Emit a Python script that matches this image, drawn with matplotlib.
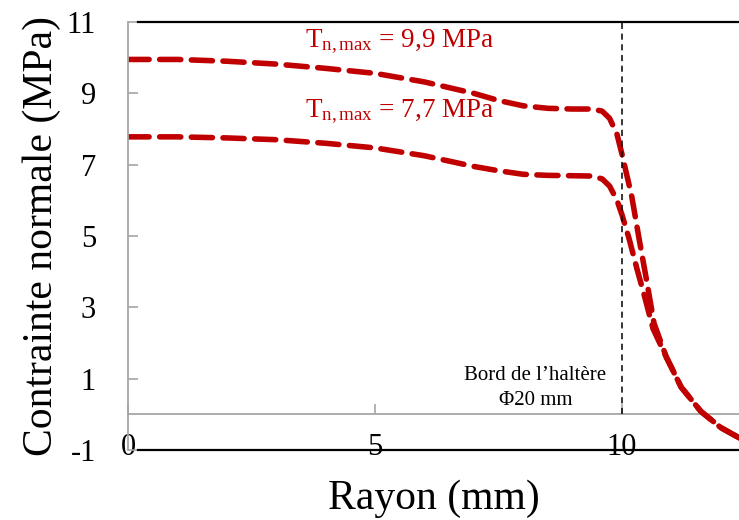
import matplotlib
matplotlib.use("Agg")
import matplotlib.pyplot as plt

plt.rcParams["font.family"] = ["Liberation Serif", "DejaVu Serif"]
plt.rcParams["mathtext.fontset"] = "custom"
plt.rcParams["mathtext.rm"] = "Liberation Serif"
plt.rcParams["mathtext.it"] = "Liberation Serif:italic"
plt.rcParams["axes.unicode_minus"] = False

# courbe Tn,max = 9,9 MPa
r_99 = [0, 1, 2, 3, 4, 5, 6, 7, 7.5, 8, 8.5, 9, 9.4, 9.6, 9.75, 9.9, 10.0,
        10.2, 10.35, 10.5, 10.65, 10.9, 11.2, 11.6, 12.0, 12.4]
s_99 = [9.95, 9.95, 9.9, 9.82, 9.7, 9.56, 9.32, 9.0, 8.8, 8.65, 8.58, 8.56, 8.56,
        8.5, 8.3, 7.85, 7.3, 6.1, 4.9, 3.75, 2.55, 1.6, 0.76, 0.08, -0.37, -0.68]
# courbe Tn,max = 7,7 MPa
r_77 = [0, 1, 2, 3, 4, 5, 6, 7, 7.5, 8, 8.5, 9, 9.4, 9.6, 9.75, 9.9, 10.0,
        10.15, 10.3, 10.45, 10.63, 10.9, 11.2, 11.6, 12.0, 12.4]
s_77 = [7.78, 7.78, 7.75, 7.7, 7.6, 7.47, 7.25, 6.95, 6.83, 6.73, 6.7, 6.69, 6.68,
        6.6, 6.4, 6.0, 5.6, 4.9, 4.1, 3.35, 2.4, 1.6, 0.76, 0.08, -0.37, -0.68]

labels = ["T$_{\\mathrm{n,max}}$ = 9,9 MPa", "T$_{\\mathrm{n,max}}$ = 7,7 MPa"]
yticks = [-1, 1, 3, 5, 7, 9, 11]
xticks = [0, 5, 10]

RED = "#C00000"
GRAY = "#A6A6A6"

fig = plt.figure(figsize=(7.39, 5.2), dpi=100)
ax = fig.add_axes([0.1732, 0.1346, 0.8268, 0.8231])
ax.set_xlim(0, 12.37)
ax.set_ylim(-1, 11)

for r, s in [(r_99, s_99), (r_77, s_77)]:
    ax.plot(r, s, color=RED, lw=4.0, ls=(0, (3.8, 1.9)), dash_capstyle="round",
            solid_joinstyle="round")

ax.text(3.58, 10.45, labels[0], color=RED, fontsize=19.5, va="center", ha="left")
ax.text(3.58, 8.49, labels[1], color=RED, fontsize=19.5, va="center", ha="left")

# bord de l'haltère
ax.plot([10, 10], [0, 11], color="black", lw=1.1, ls=(0, (4, 3)))
ax.text(8.25, 0.12, "Bord de l\u2019haltère\n\u03a620 mm", fontsize=15,
        ha="center", va="bottom", linespacing=1.45)

# axes
ax.spines["right"].set_visible(False)
ax.spines["left"].set_color(GRAY)
ax.spines["left"].set_linewidth(1.3)
ax.spines["bottom"].set_color("black")
ax.spines["bottom"].set_linewidth(1.6)
ax.spines["bottom"].set_bounds(0.2, 12.37)
ax.spines["top"].set_color("black")
ax.spines["top"].set_linewidth(1.6)
ax.spines["top"].set_bounds(0.2, 12.37)

ax.set_yticks(yticks)
ax.tick_params(axis="y", direction="in", length=7, width=1.2, color=GRAY,
               labelsize=22, pad=23)
ax.set_xticks(xticks)
ax.tick_params(axis="x", length=0, labelsize=22, pad=-12)

# axe horizontal à y = 0 (gris, graduations vers le haut)
ax.axhline(0, color=GRAY, lw=1.3, zorder=1)
sec = ax.secondary_xaxis(1 / 12)
sec.set_xticks(xticks)
sec.tick_params(axis="x", direction="in", length=7, width=1.2, color=GRAY,
                labelbottom=False, labeltop=False)
sec.spines["bottom"].set_visible(False)
sec.spines["top"].set_visible(False)

ax.set_ylabel("Contrainte normale (MPa)", fontsize=30, labelpad=4)
ax.set_xlabel("Rayon (mm)", fontsize=30, labelpad=12)

fig.savefig("out.png", dpi=100)
